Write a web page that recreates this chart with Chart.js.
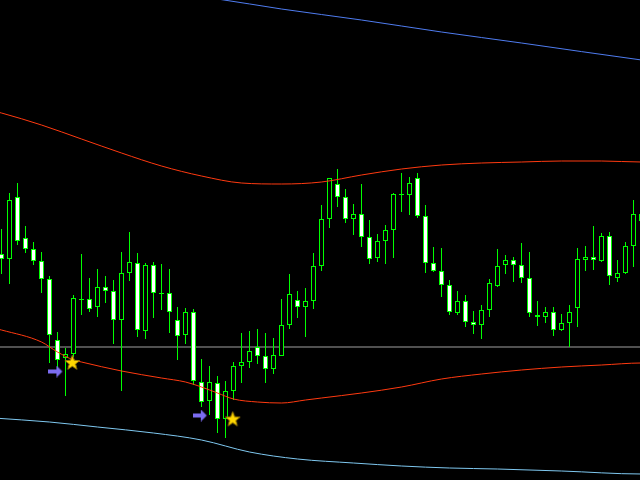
<!DOCTYPE html>
<html>
<head>
<meta charset="utf-8">
<script src="https://cdn.jsdelivr.net/npm/chart.js@4"></script>
<style>
  html, body { margin: 0; padding: 0; background: #000; }
  canvas { display: block; }
</style>
</head>
<body>
<canvas id="chart" width="640" height="480"></canvas>
<script>
// candle values in screen rows (axis is reversed), one per bar
const opens = [254, 259, 197, 238, 249, 261, 279, 340, 358, 354,
    299, 299, 307, 287, 291, 320, 273, 263, 331, 265,
    293, 293, 320, 335, 312, 382, 401, 383, 419, 391,
    366, 362, 347, 356, 369, 356, 325, 300, 307, 301,
    266, 219, 184, 197, 219, 214, 237, 258, 241, 230,
    194, 195, 178, 216, 263, 271, 285, 313, 301, 322,
    325, 310, 286, 265, 260, 265, 278, 315, 317, 312,
    330, 323, 308, 260, 257, 261, 236, 278, 273, 246,
    221];
const closes = [259, 200, 241, 249, 261, 279, 335, 360, 354, 298,
    300, 309, 287, 291, 320, 273, 262, 330, 265, 293,
    294, 312, 336, 312, 381, 402, 382, 419, 391, 366,
    362, 351, 356, 369, 355, 325, 294, 307, 301, 266,
    219, 178, 197, 219, 214, 237, 259, 241, 230, 194,
    195, 183, 216, 263, 271, 285, 312, 301, 322, 325,
    310, 283, 266, 260, 265, 278, 313, 317, 312, 330,
    323, 312, 259, 257, 260, 236, 276, 273, 246, 214,
    214];
const highs = [229, 193, 183, 226, 242, 252, 276, 332, 348, 295,
    254, 278, 269, 276, 280, 252, 232, 253, 263, 262,
    264, 269, 307, 308, 309, 359, 366, 376, 381, 362,
    333, 331, 329, 333, 338, 299, 274, 291, 288, 253,
    205, 178, 169, 189, 204, 184, 220, 234, 225, 193,
    173, 177, 173, 205, 247, 248, 280, 291, 295, 311,
    305, 279, 249, 255, 257, 243, 252, 301, 307, 307,
    314, 305, 248, 246, 226, 233, 232, 260, 242, 200,
    210];
const lows = [274, 284, 245, 253, 265, 293, 363, 368, 396, 357,
    315, 312, 317, 303, 344, 391, 281, 337, 339, 318,
    310, 333, 360, 344, 385, 407, 415, 433, 438, 400,
    383, 368, 364, 383, 374, 356, 329, 318, 337, 309,
    271, 228, 207, 223, 235, 247, 264, 262, 264, 258,
    212, 215, 218, 273, 272, 297, 315, 315, 327, 334,
    339, 317, 287, 274, 282, 283, 317, 326, 323, 336,
    331, 347, 327, 271, 270, 262, 285, 282, 274, 267,
    225];

// indicator lines: bar index -> row
const upperRedX = [-1, 0, 5, 10, 15, 20, 25, 30, 35, 40, 45, 50, 55, 60, 65, 70, 75, 80, 81];
const upperRedY = [111, 113, 125, 139, 153, 166, 176, 183, 184, 182, 175, 169, 165, 163, 162, 161, 161, 162, 162];
const lowerRedX = [-1, 0, 5, 7, 9, 10, 15, 20, 23, 25, 27, 29, 32, 35, 38, 40, 45, 50, 55, 60, 65, 70, 75, 80, 81];
const lowerRedY = [328, 330, 342, 352, 360, 362, 371, 378, 382, 387, 393, 399, 402, 403, 400, 398, 393, 387, 379, 374, 370, 367, 365, 363, 363];
const lowBlueX = [-1, 6, 12, 19, 25, 31, 37, 44, 50, 56, 62, 70, 80, 81];
const lowBlueY = [418, 422, 427, 433, 440, 452, 459, 463, 466, 468, 469, 471, 474, 474];
const topBlueX = [26, 27, 35, 45, 55, 65, 80, 81];
const topBlueY = [-2, -1, 9, 20, 32, 43, 60, 61];
const levelX = [-1, 81];
const levelY = [347, 347];

const arrowX = [6.8, 24.85];
const arrowY = [371.5, 415.5];
const starX = [8.85, 28.9];
const starY = [362.5, 419];

function pts(xs, ys) {
    return xs.map((x, i) => ({ x: x, y: ys[i] }));
}

function makeStar() {
    const c = document.createElement('canvas');
    c.width = 17; c.height = 17;
    const g = c.getContext('2d');
    g.beginPath();
    for (let i = 0; i < 10; i++) {
        const r = i % 2 ? 3.3 : 7.8;
        const a = -Math.PI / 2 + i * Math.PI / 5;
        const px = 8.5 + r * Math.cos(a), py = 9 + r * Math.sin(a);
        if (i === 0) g.moveTo(px, py); else g.lineTo(px, py);
    }
    g.closePath();
    g.fillStyle = '#ffd700';
    g.fill();
    g.strokeStyle = '#9a7a00';
    g.lineWidth = 1;
    g.stroke();
    return c;
}

function makeArrow() {
    const c = document.createElement('canvas');
    c.width = 15; c.height = 12;
    const g = c.getContext('2d');
    g.fillStyle = '#7b6cf0';
    g.beginPath();
    g.moveTo(0, 4); g.lineTo(8, 4); g.lineTo(8, 0); g.lineTo(14, 6);
    g.lineTo(8, 12); g.lineTo(8, 8); g.lineTo(0, 8);
    g.closePath();
    g.fill();
    return c;
}

function lineSet(data, color, order) {
    return {
        type: 'line',
        data: data,
        borderColor: color,
        borderWidth: 1,
        pointRadius: 0,
        cubicInterpolationMode: 'monotone',
        fill: false,
        order: order
    };
}

function createChart() {
    const ctx = document.getElementById('chart').getContext('2d');
    const idx = opens.map((o, i) => i);

    new Chart(ctx, {
        type: 'bar',
        data: {
            datasets: [
                {
                    type: 'scatter',
                    data: pts(arrowX, arrowY),
                    pointStyle: makeArrow(),
                    order: -3
                },
                {
                    type: 'scatter',
                    data: pts(starX, starY),
                    pointStyle: makeStar(),
                    order: -3
                },
                lineSet(pts(upperRedX, upperRedY), '#ff3a10', -1),
                lineSet(pts(lowerRedX, lowerRedY), '#ff3a10', -1),
                lineSet(pts(lowBlueX, lowBlueY), '#7fc8f0', -1),
                lineSet(pts(topBlueX, topBlueY), '#4f7cf0', -1),
                {
                    // candle bodies
                    data: idx.map(i => ({ x: i, y: [opens[i], closes[i]] })),
                    backgroundColor: idx.map(i => closes[i] > opens[i] ? '#ffffff' : '#000000'),
                    borderColor: '#00ff00',
                    borderWidth: 1,
                    borderSkipped: false,
                    barThickness: 5,
                    inflateAmount: 0,
                    grouped: false,
                    order: 0
                },
                {
                    // wicks
                    data: idx.map(i => ({ x: i, y: [lows[i], highs[i]] })),
                    backgroundColor: '#00ff00',
                    borderWidth: 0,
                    barThickness: 1,
                    inflateAmount: 0,
                    grouped: false,
                    order: 1
                },
                lineSet(pts(levelX, levelY), '#a0a0a0', 2)
            ]
        },
        options: {
            responsive: false,
            animation: false,
            devicePixelRatio: 1,
            layout: { padding: 0, autoPadding: false },
            plugins: {
                legend: { display: false },
                tooltip: { enabled: false }
            },
            scales: {
                x: {
                    type: 'linear',
                    display: false,
                    offset: false,
                    min: -1.5 / 8,
                    max: 80 - 1.5 / 8
                },
                y: {
                    type: 'linear',
                    display: false,
                    reverse: true,
                    min: 0,
                    max: 480
                }
            }
        }
    });
}

window.addEventListener('load', createChart);
</script>
</body>
</html>
